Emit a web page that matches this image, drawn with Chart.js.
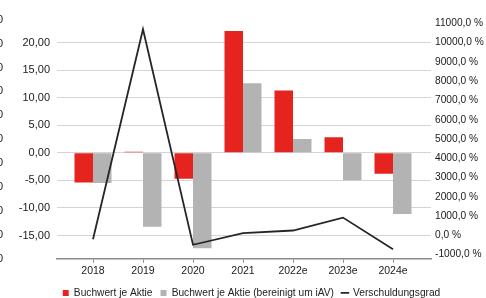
<!DOCTYPE html>
<html>
<head>
<meta charset="utf-8">
<script src="https://cdn.jsdelivr.net/npm/chart.js@4/dist/chart.umd.min.js"></script>
<style>
  body { margin: 0; background: #fff; }
  #wrap { width: 486px; height: 298px; }
</style>
</head>
<body>
<div id="wrap"><canvas id="chart" width="486" height="298"></canvas></div>
<script>
// ===== Daten =====
const years = ['2018', '2019', '2020', '2021', '2022e', '2023e', '2024e'];
const buchwert = [-5.4, 0.2, -4.7, 22.1, 11.3, 2.8, -3.8];
const buchwertBereinigt = [-5.5, -13.4, -17.3, 12.6, 2.5, -5.0, -11.1];
const verschuldung = [-200, 10700, -490, 110, 250, 920, -720];

const leftTicks = [-15, -10, -5, 0, 5, 10, 15, 20];
const rightTicks = [-1000, 0, 1000, 2000, 3000, 4000, 5000, 6000, 7000, 8000, 9000, 10000, 11000];
const ghostTicks = [0, 1, 2, 3, 4, 5, 6, 7, 8, 9, 10];

const toPoints = arr => arr.map((v, i) => ({ x: i, y: v }));
const deNum = (v, d) => v.toFixed(d).replace('.', ',');
const FONT = 'Liberation Sans, Arial, sans-serif';
const PAD_LEFT = 17;

new Chart(document.getElementById('chart'), {
  type: 'bar',
  data: {
    datasets: [
      {
        label: 'Buchwert je Aktie',
        data: toPoints(buchwert),
        backgroundColor: '#e52420',
        borderWidth: 0,
        yAxisID: 'y',
        order: 1
      },
      {
        label: 'Buchwert je Aktie (bereinigt um iAV)',
        data: toPoints(buchwertBereinigt),
        backgroundColor: '#b3b3b3',
        borderWidth: 0,
        yAxisID: 'y',
        order: 1
      },
      {
        type: 'line',
        label: 'Verschuldungsgrad',
        data: toPoints(verschuldung),
        borderColor: '#262626',
        backgroundColor: '#262626',
        borderWidth: 1.8,
        pointRadius: 0,
        tension: 0,
        yAxisID: 'y2',
        order: -1
      }
    ]
  },
  options: {
    responsive: false,
    animation: false,
    categoryPercentage: 0.74,
    barPercentage: 1.0,
    layout: { padding: { top: 23.5, left: PAD_LEFT, right: 0, bottom: -10 } },
    plugins: {
      tooltip: { enabled: false },
      legend: {
        position: 'bottom',
        labels: {
          usePointStyle: true,
          boxWidth: 6,
          boxHeight: 6,
          padding: 8,
          color: '#222',
          font: { family: FONT, size: 10.2 },
          sort: (a, b) => a.datasetIndex - b.datasetIndex,
          generateLabels: chart => {
            const items = Chart.defaults.plugins.legend.labels.generateLabels(chart);
            items.forEach(it => {
              if (it.datasetIndex === 2) {
                it.pointStyle = 'line';
                it.lineWidth = 1.8;
                it.strokeStyle = '#262626';
              } else {
                it.pointStyle = 'rect';
                it.lineWidth = 0;
              }
            });
            return items;
          }
        }
      }
    },
    scales: {
      x: {
        type: 'linear',
        offset: false,
        min: -0.72,
        max: 6.76,
        grid: { offset: false, drawOnChartArea: false, drawTicks: true, tickLength: 4, color: '#8c8c8c' },
        border: { display: true, color: '#8c8c8c', width: 1.5 },
        afterBuildTicks: s => { s.ticks = years.map((_, i) => ({ value: i })); },
        afterFit: s => { s.height = 21; },
        ticks: {
          padding: 2,
          autoSkip: false,
          maxRotation: 0,
          color: '#1a1a1a',
          font: { family: FONT, size: 10.5 },
          callback: v => years[v]
        }
      },
      // abgeschnittene Beschriftung am linken Bildrand
      yg: {
        axis: 'y',
        type: 'linear',
        position: 'left',
        weight: 10,
        min: 0,
        max: 9.84,
        grid: { display: false },
        border: { display: false },
        afterBuildTicks: s => { s.ticks = ghostTicks.map(v => ({ value: v })); },
        afterFit: s => { s.width = 0; },
        ticks: {
          mirror: true,
          padding: -PAD_LEFT - 3,
          autoSkip: false,
          color: '#1a1a1a',
          font: { family: FONT, size: 11 },
          callback: () => '0'
        }
      },
      y: {
        type: 'linear',
        position: 'left',
        weight: 0,
        min: -19.22,
        max: 23.44,
        grid: { color: '#d4d4d4', lineWidth: 1, drawTicks: false },
        border: { display: false },
        afterBuildTicks: s => { s.ticks = leftTicks.map(v => ({ value: v })); },
        afterFit: s => { s.width = 57 - PAD_LEFT; },
        ticks: {
          padding: 7,
          autoSkip: false,
          color: '#1a1a1a',
          font: { family: FONT, size: 11 },
          callback: v => deNum(v, 2)
        }
      },
      y2: {
        type: 'linear',
        position: 'right',
        min: -1219,
        max: 10996,
        grid: { display: false, drawTicks: false },
        border: { display: false },
        afterBuildTicks: s => { s.ticks = rightTicks.map(v => ({ value: v })); },
        afterFit: s => { s.width = 55; },
        ticks: {
          padding: 4,
          autoSkip: false,
          color: '#1a1a1a',
          font: { family: FONT, size: 10.2 },
          callback: v => deNum(v, 1) + ' %'
        }
      }
    }
  }
});
</script>
</body>
</html>
